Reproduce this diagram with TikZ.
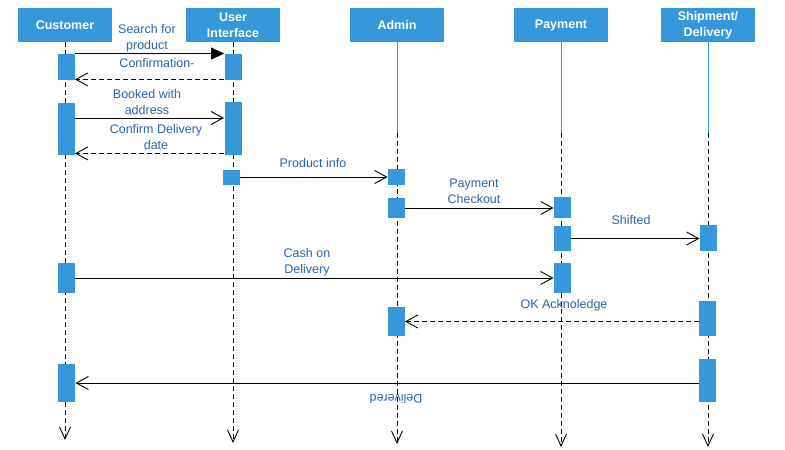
\documentclass[tikz,border=0pt]{standalone}
\usepackage{fontspec}
\setmainfont{Liberation Sans}
\usetikzlibrary{arrows.meta}
\usetikzlibrary{positioning}
\definecolor{boxblue}{RGB}{52,152,219}
\definecolor{txtblue}{RGB}{40,100,172}
\begin{document}
\begin{tikzpicture}[x=1pt,y=-1pt,line width=0.9pt,
  head/.style={rectangle,fill=boxblue,text=white,font=\fontsize{12.5}{16}\selectfont\bfseries,align=center,minimum width=94pt,minimum height=34pt,inner sep=0pt},
  actbox/.style={rectangle,fill=boxblue,minimum width=17pt,minimum height=#1,inner sep=0pt},
  lbl/.style={text=txtblue,font=\fontsize{12.5}{16}\selectfont,align=center,inner sep=0pt},
  life/.style={dash pattern=on 5pt off 3pt,-{Straight Barb[length=12pt,width=11pt]}},
  msg/.style={-{Straight Barb[length=12pt,width=13pt]}},
  reply/.style={dash pattern=on 5pt off 3pt,-{Straight Barb[length=12pt,width=13pt]}}]
  \useasboundingbox (0,0) rectangle (785,450);
  % headers
  \node[head] (cust) at (65,25) {Customer};
  \node[head] (ui) at (233,25) {User\\Interface};
  \node[head] (admin) at (397,25) {Admin};
  \node[head] (pay) at (561,25) {Payment};
  \node[head] (ship) at (708,25) {Shipment/\\Delivery};
  % lifelines
  \coordinate (custEnd) at (65,440);
  \coordinate (uiEnd) at (233,443);
  \coordinate (adminTop) at (397,133);
  \coordinate (adminEnd) at (397,444);
  \coordinate (payTop) at (561,133);
  \coordinate (payEnd) at (561,447);
  \coordinate (shipTop) at (708,133);
  \coordinate (shipEnd) at (708,447);
  \draw[life](cust)--(custEnd);
  \draw[life](ui)--(uiEnd);
  \draw[boxblue,line width=0.6pt](admin)--(adminTop);
  \draw[life](adminTop)--(adminEnd);
  \draw[boxblue,line width=0.6pt](pay)--(payTop);
  \draw[life](payTop)--(payEnd);
  \draw[boxblue,line width=0.6pt](ship)--(shipTop);
  \draw[life](shipTop)--(shipEnd);
  % activation boxes
  \node[actbox=26pt] (c1) at (66,67) {};
  \node[actbox=26pt] (u1) at (233,67) {};
  \node[actbox=52pt] (c2) at (66,129) {};
  \node[actbox=53pt] (u2) at (233,128.5) {};
  \node[actbox=15pt] (u3) at (231.5,177.5) {};
  \node[actbox=16pt] (a1) at (396.5,177) {};
  \node[actbox=20pt] (a2) at (396.5,208) {};
  \node[actbox=21pt] (p1) at (562.5,207.5) {};
  \node[actbox=25pt] (p2) at (562.5,238.5) {};
  \node[actbox=26pt] (s1) at (708.5,238) {};
  \node[actbox=30pt] (c3) at (66.5,278) {};
  \node[actbox=30pt] (p3) at (562.5,278) {};
  \node[actbox=29pt] (a3) at (396,321.5) {};
  \node[actbox=35pt] (s2) at (707.5,318.5) {};
  \node[actbox=38pt] (c4) at (66.5,383) {};
  \node[actbox=43pt] (s3) at (707.5,380.5) {};
  \coordinate (bookStart) at ([yshift=11pt]c2.east);
  \coordinate (dateStart) at ([yshift=2pt]u2.south west);
  % messages
  \draw[line width=1.1pt,-{Triangle[length=13pt,width=12pt]}](c1.north east)--(u1.north west);
  \draw[reply]([yshift=1pt]u1.south west)--([yshift=1pt]c1.south east);
  \draw[msg](bookStart)--(u2.west |- bookStart);
  \draw[reply](dateStart)--(c2.east |- dateStart);
  \draw[msg](u3.east |- a1.west)--(a1.west);
  \draw[msg](a2.east)--(p1.west |- a2.east);
  \draw[msg](p2.east)--(s1.west |- p2.east);
  \draw[msg](c3.east)--(p3.west);
  \draw[reply](s2.west |- a3.east)--(a3.east);
  \draw[msg](s3.west |- c4.east)--(c4.east);
  % labels
  \node[lbl] (m1) at (147,38) {Search for\\product};
  \node[lbl] (m2) at (157,63) {Confirmation-};
  \node[lbl] (m3) at (147,102) {Booked with\\address};
  \node[lbl] (m4) at (156,137) {Confirm Delivery\\date};
  \node[lbl] (m5) at (313,163) {Product info};
  \node[lbl] (m6) at (474,191) {Payment\\Checkout};
  \node[lbl] (m7) at (631,220) {Shifted};
  \node[lbl] (m8) at (307,262) {Cash on\\Delivery};
  \node[lbl] (m9) at (564,305) {OK Acknoledge};
  \node[lbl,rotate=180] (m10) at (396,399) {Delivered};
\end{tikzpicture}
\end{document}
